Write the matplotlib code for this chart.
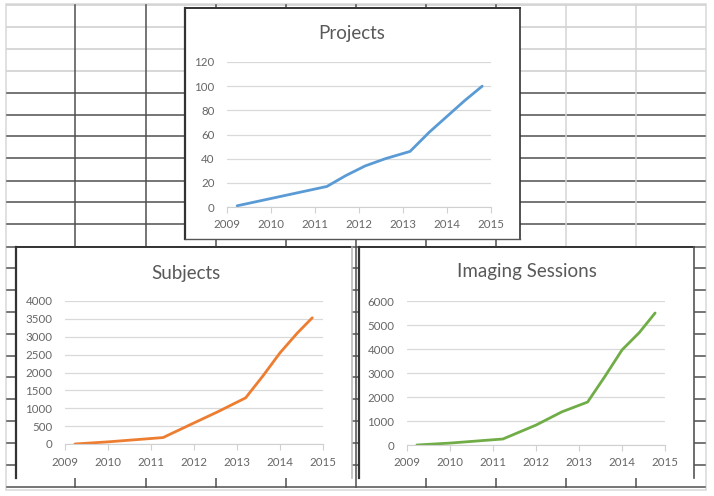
import matplotlib
matplotlib.use("Agg")
import matplotlib.pyplot as plt
from matplotlib.patches import Rectangle

plt.rcParams['font.family'] = ['Lato', 'DejaVu Sans']

# data
proj_years = [2009.23, 2011.27, 2011.7, 2012.14, 2012.6, 2013.16, 2013.6, 2014.0, 2014.4, 2014.8]
projects = [1, 17, 26, 34, 40, 46, 62, 75, 88, 100]

subj_years = [2009.23, 2010.0, 2011.28, 2012.0, 2012.55, 2013.2, 2013.6, 2014.0, 2014.4, 2014.75]
subjects = [0, 60, 180, 590, 900, 1290, 1900, 2550, 3100, 3530]

sess_years = [2009.23, 2010.0, 2011.23, 2012.0, 2012.6, 2013.2, 2013.6, 2014.0, 2014.4, 2014.77]
sessions = [0, 80, 250, 830, 1380, 1790, 2850, 3960, 4680, 5500]

year_ticks = [2009, 2010, 2011, 2012, 2013, 2014, 2015]

W, H = 714, 496
fig = plt.figure(figsize=(W / 100, H / 100), dpi=100)

# spreadsheet grid in pixel coordinates behind the charts
bg = fig.add_axes([0, 0, 1, 1])
bg.set_xlim(0, W)
bg.set_ylim(H, 0)
bg.axis('off')

dark = '#505050'
light = '#d4d4d4'
rows = [5, 27, 49, 71, 93, 115, 136, 158, 181, 202, 224, 247,
        268, 290, 312, 334, 356, 377, 399, 421, 443, 465, 487]
cols = [75, 146, 216, 286, 356, 426, 496, 566, 636]
for y in rows:
    bg.plot([7, 705], [y, y], color=light if y < 80 else dark, lw=1.1 if y > 80 else 1.3)
for x in cols:
    c = light if x in (566, 636) else dark
    bg.plot([x, x], [5, 247], color=c, lw=1.1)
    bg.plot([x, x], [247, 487], color=dark, lw=1.1)
bg.add_patch(Rectangle((6, 4), 700, 486, fill=False, ec='#dcdcdc', lw=1.2))

# chart frames (pixel boxes)
frames = [(185, 8, 520, 239), (16, 247, 352, 478), (359, 247, 694, 478)]
for x0, y0, x1, y1 in frames:
    bg.add_patch(Rectangle((x0, y0), x1 - x0, y1 - y0, fc='white', ec='none', zorder=5))
    bg.plot([x0, x0], [y0, y1], color='#333333', lw=1.6, zorder=6)
    bg.plot([x0, x1], [y0, y0], color='#333333', lw=1.4, zorder=6)
bg.plot([520, 520], [8, 239], color='#333333', lw=1.2, zorder=6)
bg.plot([185, 520], [239, 239], color='#555555', lw=1.0, zorder=6)
bg.plot([352, 352], [247, 478], color='#bbbbbb', lw=1.2, zorder=6)
bg.plot([694, 694], [247, 478], color='#555555', lw=1.2, zorder=6)


def chart(px0, py0, px1, py1, xs, ys, ymax, ystep, color, title, tx, ty):
    ax = fig.add_axes([px0 / W, 1 - py1 / H, (px1 - px0) / W, (py1 - py0) / H])
    ax.patch.set_alpha(0)
    ax.plot(xs, ys, color=color, lw=2.0, solid_capstyle='round')
    ax.set_xlim(2009, 2015)
    ax.set_ylim(0, ymax)
    ax.set_xticks(year_ticks)
    ax.set_yticks(range(0, ymax + 1, ystep))
    ax.grid(axis='y', color='#d9d9d9', lw=0.9)
    ax.set_axisbelow(True)
    for s in ['top', 'right', 'left']:
        ax.spines[s].set_visible(False)
    ax.spines['bottom'].set_color('#d0d0d0')
    ax.tick_params(axis='x', length=4, color='#d0d0d0', pad=5, labelsize=8.3, labelcolor='#666666')
    ax.tick_params(axis='y', length=0, pad=9, labelsize=8.3, labelcolor='#666666')
    fig.text(tx / W, 1 - ty / H, title, ha='center', va='center', fontsize=13.5, color='#595959')
    return ax


chart(227, 62, 491, 207, proj_years, projects, 120, 20, '#5B9BD5', 'Projects', 352, 33)
chart(65, 301, 323, 444, subj_years, subjects, 4000, 500, '#ED7D31', 'Subjects', 186, 273)
chart(407, 301, 665, 445, sess_years, sessions, 6000, 1000, '#70AD47', 'Imaging Sessions', 527, 272)

fig.savefig('out.png', dpi=100)
